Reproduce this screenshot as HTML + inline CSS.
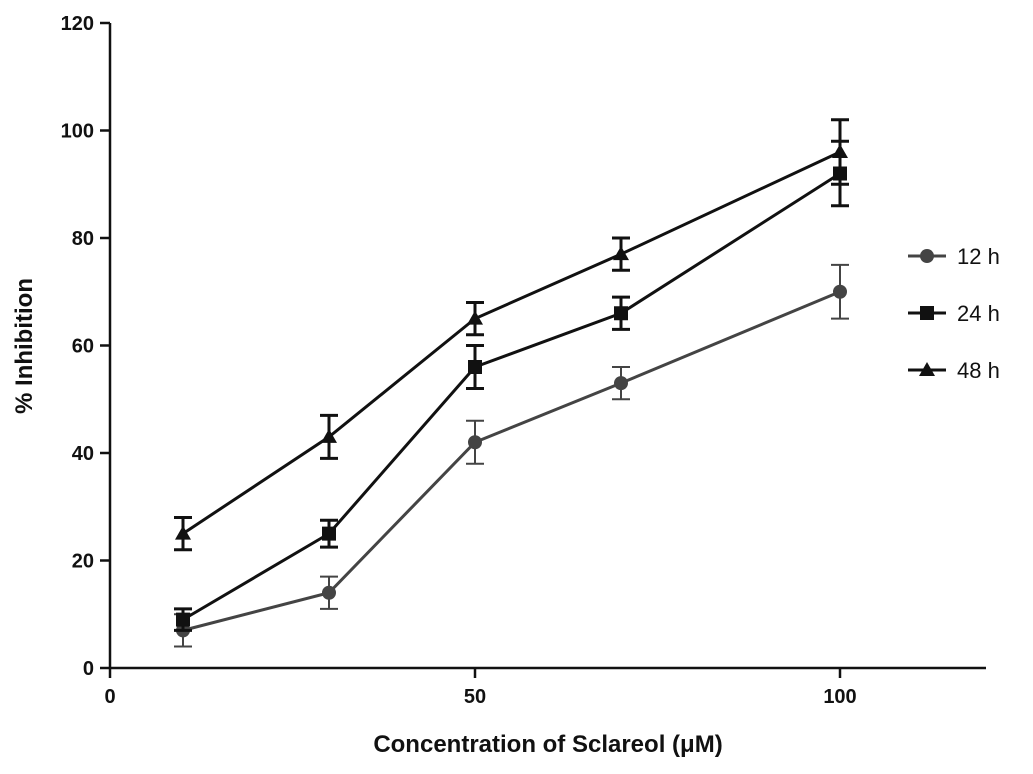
<!DOCTYPE html>
<html><head><meta charset="utf-8"><style>
body{margin:0;background:#fff}
svg text{font-family:"Liberation Sans",Arial,sans-serif;font-weight:bold;fill:#111}
</style></head><body>
<svg width="1033" height="769" viewBox="0 0 1033 769">
<g id="axes"></g><g id="plot"></g><g id="legend"></g>
</svg>
<script>
const xVals=[10,30,50,70,100];
const s12=[7,14,42,53,70];
const e12=[3,3,4,3,5];
const s24=[9,25,56,66,92];
const e24=[2,2.5,4,3,6];
const s48=[25,43,65,77,96];
const e48=[3,4,3,3,6];
const xTicks=[0,50,100];
const yTicks=[0,20,40,60,80,100,120];
const seriesNames=["12 h","24 h","48 h"];
const NS="http://www.w3.org/2000/svg";
const X=v=>110+v*7.3, Y=v=>668-v*5.375;
function mk(tag,attrs,parent){const e=document.createElementNS(NS,tag);for(const k in attrs)e.setAttribute(k,attrs[k]);parent.appendChild(e);return e;}
const axes=document.getElementById('axes'),plot=document.getElementById('plot'),leg=document.getElementById('legend');
let a=mk('line',{x1:110,y1:668,x2:986,y2:668,stroke:'#111','stroke-width':2.5},axes);

a=mk('line',{x1:110,y1:Y(120),x2:110,y2:668,stroke:'#111','stroke-width':2.5},axes);

xTicks.forEach(t=>{mk('line',{x1:X(t),y1:668,x2:X(t),y2:678,stroke:'#111','stroke-width':2.5},axes);
const tx=mk('text',{x:X(t),y:703,'text-anchor':'middle','font-size':20},axes);tx.textContent=t;
});
yTicks.forEach(t=>{mk('line',{x1:100,y1:Y(t),x2:110,y2:Y(t),stroke:'#111','stroke-width':2.5},axes);
const tx=mk('text',{x:94,y:Y(t)+7,'text-anchor':'end','font-size':20},axes);tx.textContent=t;
});
let t=mk('text',{x:548,y:752,'text-anchor':'middle','font-size':24},axes);t.textContent='Concentration of Sclareol (μM)';

t=mk('text',{x:0,y:0,'text-anchor':'middle','font-size':24,transform:'translate(32,346) rotate(-90)'},axes);t.textContent='% Inhibition';

function marker(type,x,y,col,g){
 if(type==0)return mk('circle',{cx:x,cy:y,r:7,fill:col},g);
 if(type==1)return mk('rect',{x:x-7,y:y-7,width:14,height:14,fill:col},g);
 return mk('polygon',{points:`${x},${y-8} ${x+8},${y+6} ${x-8},${y+6}`,fill:col},g);}
const all=[[s12,e12,'#444',2],[s24,e24,'#111',3],[s48,e48,'#111',3]];
all.forEach(([s,e,col,w],i)=>{
 const g=mk('g',{},plot);
 const ln=mk('polyline',{points:s.map((v,j)=>X(xVals[j])+','+Y(v)).join(' '),fill:'none',stroke:col,'stroke-width':3},g);
 
 s.forEach((v,j)=>{const x=X(xVals[j]);
  const eb=mk('path',{d:`M${x},${Y(v+e[j])}V${Y(v-e[j])}M${x-9},${Y(v+e[j])}H${x+9}M${x-9},${Y(v-e[j])}H${x+9}`,stroke:col,'stroke-width':w,fill:'none'},g);
  
  const m=marker(i,x,Y(v),col,g);});
 const ly=256+i*57;
 const le=mk('g',{},leg);
 mk('line',{x1:908,y1:ly,x2:946,y2:ly,stroke:col,'stroke-width':3},le);
 marker(i,927,ly,col,le);
 const lt=mk('text',{x:957,y:ly+8,'font-size':22,'font-weight':'normal'},le);lt.style.fontWeight='normal';lt.textContent=seriesNames[i];
});
</script>
</body></html>
